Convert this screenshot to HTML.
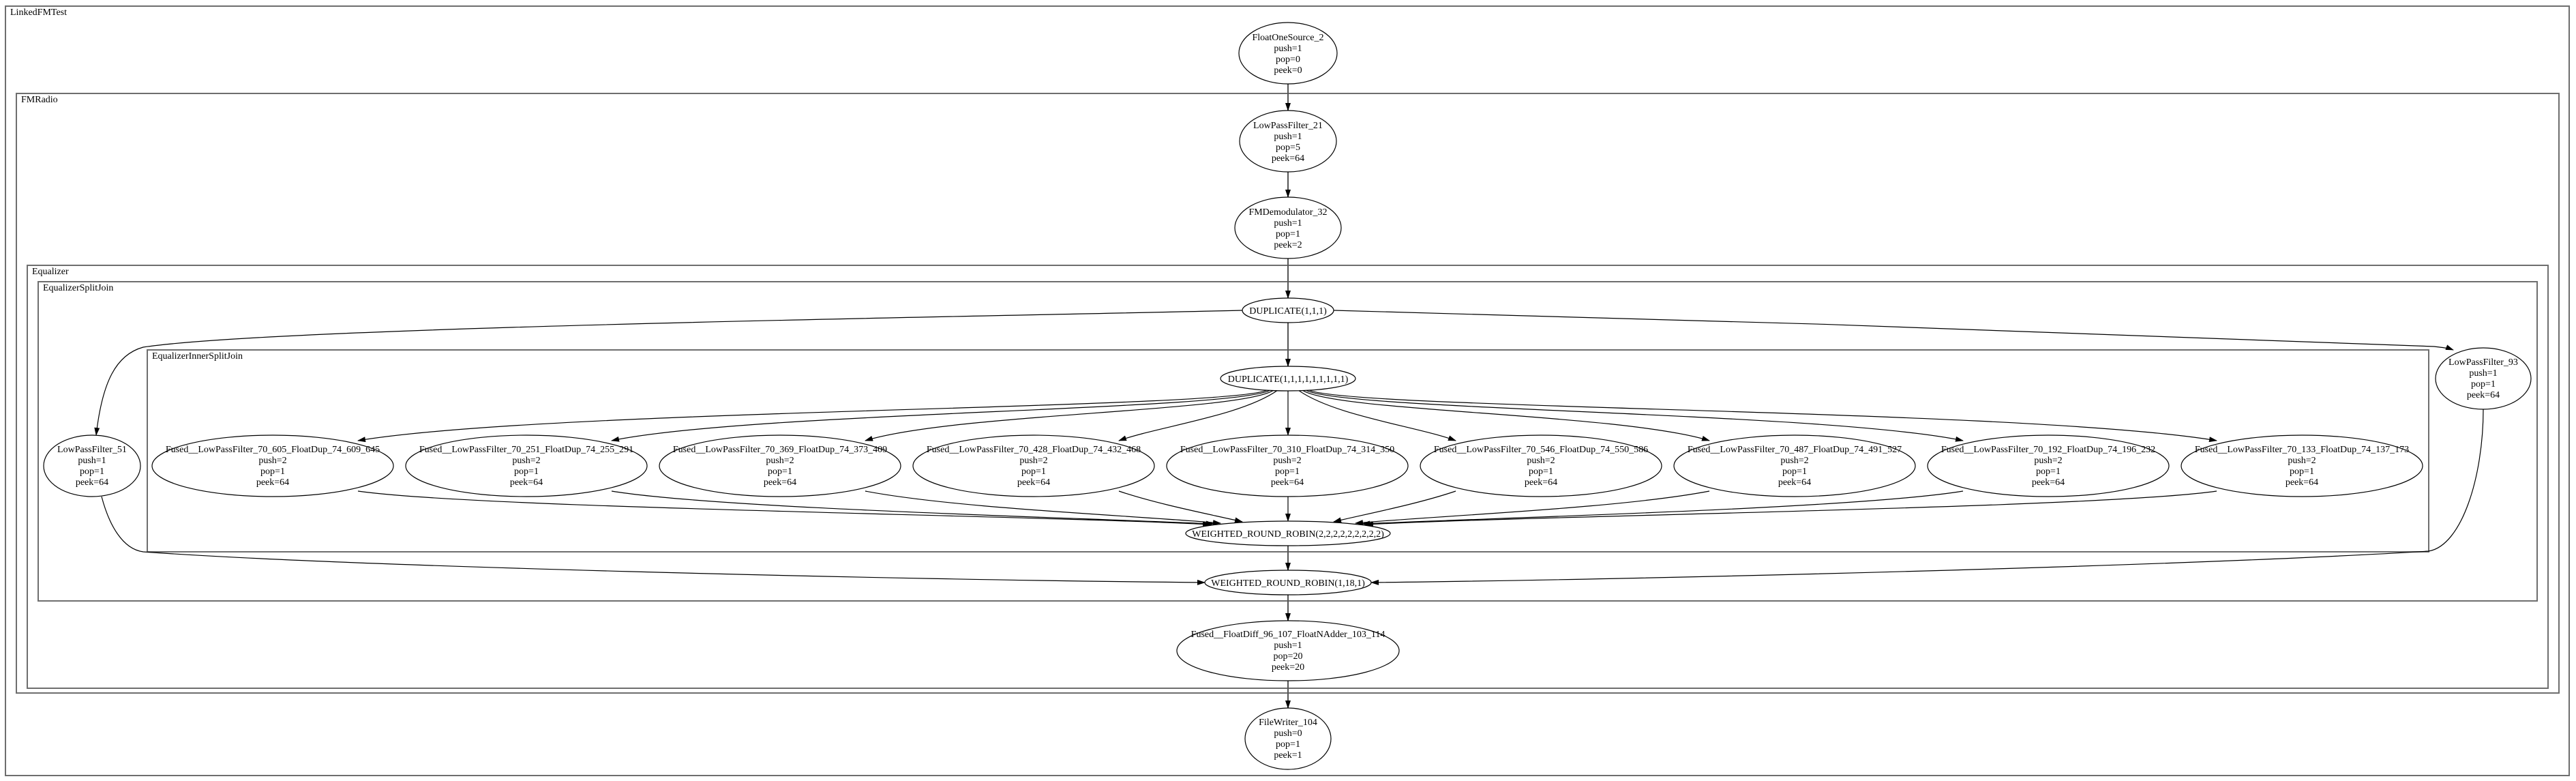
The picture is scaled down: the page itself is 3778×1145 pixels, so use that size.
<!DOCTYPE html>
<html><head><meta charset="utf-8"><style>
html,body{margin:0;padding:0;background:#fff;}
svg{display:block;}
text{font-family:"Liberation Serif",serif;font-size:14px;fill:#000;}
.c{fill:none;stroke:#6e6e6e;stroke-width:2;}
.n{fill:#fff;stroke:#000;stroke-width:1.2;}
.e{fill:none;stroke:#000;stroke-width:1.2;}
.v{fill:none;stroke:#555;stroke-width:2;}
</style></head><body>
<svg width="3778" height="1145" viewBox="0 0 3778 1145" xmlns="http://www.w3.org/2000/svg">
<defs>
<marker id="a" markerUnits="userSpaceOnUse" markerWidth="12" markerHeight="8" refX="11" refY="4" orient="auto"><path d="M0,0 L12,4 L0,8z" fill="#000"/></marker>
</defs>
<!-- clusters -->
<rect class="c" x="8" y="9" width="3760" height="1128"/>
<text x="15" y="22">LinkedFMTest</text>
<rect class="c" x="24" y="137" width="3729" height="879"/>
<text x="31" y="150">FMRadio</text>
<rect class="c" x="40" y="389" width="3697" height="620"/>
<text x="47" y="402">Equalizer</text>
<rect class="c" x="56" y="413" width="3665" height="468"/>
<text x="63" y="426">EqualizerSplitJoin</text>
<rect class="c" x="216" y="513" width="3346" height="296"/>
<text x="223" y="526">EqualizerInnerSplitJoin</text>

<!-- main vertical edges -->
<g class="v" marker-end="url(#a)">
<path d="M1889,123 L1889,162"/>
<path d="M1889,252 L1889,289"/>
<path d="M1889,379 L1889,437"/>
<path d="M1889,473 L1889,537"/>
<path d="M1889,800 L1889,836"/>
<path d="M1889,872 L1889,910"/>
<path d="M1889,998 L1889,1038"/>
</g>

<!-- outer splitjoin edges -->
<g class="e" marker-end="url(#a)">
<path d="M1822,455 C1400,465 400,480 210,509 C170,520 150,560 141,638"/>
<path d="M1956,455 C2400,465 3300,495 3570,508 C3585,510 3590,510 3598,513"/>
<path d="M149,728 C160,770 180,805 210,809 C500,830 1300,850 1767,854"/>
<path d="M3642,600 C3642,700 3610,800 3562,808 C3200,830 2400,850 2011,854"/>
</g>

<!-- dup9 -> fused -->
<g class="e" marker-end="url(#a)">
<path d="M1858,572 C1800,600 800,600 525,646"/>
<path d="M1863,572 C1810,602 1100,604 897,646"/>
<path d="M1868,572 C1820,604 1400,606 1269,646"/>
<path d="M1874,572 C1820,610 1700,625 1641,646"/>
<path d="M1889,573 L1889,638"/>
<path d="M1904,572 C1958,610 2078,625 2135,646"/>
<path d="M1910,572 C1958,604 2378,606 2507,646"/>
<path d="M1915,572 C1968,602 2678,604 2879,646"/>
<path d="M1920,572 C1978,600 2978,600 3251,646"/>
</g>
<!-- fused -> wrr -->
<g class="e" marker-end="url(#a)">
<path d="M525,720 C700,745 1500,755 1775,769"/>
<path d="M897,720 C1050,745 1550,758 1780,768"/>
<path d="M1269,720 C1400,745 1650,755 1790,767"/>
<path d="M1641,720 C1700,740 1780,755 1822,765"/>
<path d="M1889,728 L1889,764"/>
<path d="M2135,720 C2076,740 1996,755 1956,765"/>
<path d="M2507,720 C2376,745 2126,755 1988,767"/>
<path d="M2879,720 C2726,745 2226,758 1998,768"/>
<path d="M3251,720 C3076,745 2276,755 2003,769"/>
</g>

<!-- chain nodes -->
<ellipse class="n" cx="1889" cy="78" rx="72" ry="45"/>
<text text-anchor="middle"><tspan x="1889" y="59">FloatOneSource_2</tspan><tspan x="1889" y="75">push=1</tspan><tspan x="1889" y="91">pop=0</tspan><tspan x="1889" y="107">peek=0</tspan></text>
<ellipse class="n" cx="1889" cy="207" rx="71" ry="45"/>
<text text-anchor="middle"><tspan x="1889" y="188">LowPassFilter_21</tspan><tspan x="1889" y="204">push=1</tspan><tspan x="1889" y="220">pop=5</tspan><tspan x="1889" y="236">peek=64</tspan></text>
<ellipse class="n" cx="1889" cy="334" rx="78" ry="45"/>
<text text-anchor="middle"><tspan x="1889" y="315">FMDemodulator_32</tspan><tspan x="1889" y="331">push=1</tspan><tspan x="1889" y="347">pop=1</tspan><tspan x="1889" y="363">peek=2</tspan></text>
<ellipse class="n" cx="1889" cy="455" rx="67" ry="18"/>
<text x="1889" y="460" text-anchor="middle">DUPLICATE(1,1,1)</text>
<ellipse class="n" cx="1889" cy="555" rx="99" ry="18"/>
<text x="1889" y="560" text-anchor="middle">DUPLICATE(1,1,1,1,1,1,1,1,1)</text>

<ellipse class="n" cx="135" cy="683" rx="71" ry="45"/>
<text text-anchor="middle"><tspan x="135" y="663">LowPassFilter_51</tspan><tspan x="135" y="679">push=1</tspan><tspan x="135" y="695">pop=1</tspan><tspan x="135" y="711">peek=64</tspan></text>
<ellipse class="n" cx="3642" cy="555" rx="70" ry="45"/>
<text text-anchor="middle"><tspan x="3642" y="535">LowPassFilter_93</tspan><tspan x="3642" y="551">push=1</tspan><tspan x="3642" y="567">pop=1</tspan><tspan x="3642" y="583">peek=64</tspan></text>

<!-- fused nodes -->
<g>
<ellipse class="n" cx="400" cy="683" rx="177" ry="45"/>
<text text-anchor="middle"><tspan x="400" y="663">Fused__LowPassFilter_70_605_FloatDup_74_609_645</tspan><tspan x="400" y="679">push=2</tspan><tspan x="400" y="695">pop=1</tspan><tspan x="400" y="711">peek=64</tspan></text>
<ellipse class="n" cx="772" cy="683" rx="177" ry="45"/>
<text text-anchor="middle"><tspan x="772" y="663">Fused__LowPassFilter_70_251_FloatDup_74_255_291</tspan><tspan x="772" y="679">push=2</tspan><tspan x="772" y="695">pop=1</tspan><tspan x="772" y="711">peek=64</tspan></text>
<ellipse class="n" cx="1144" cy="683" rx="177" ry="45"/>
<text text-anchor="middle"><tspan x="1144" y="663">Fused__LowPassFilter_70_369_FloatDup_74_373_409</tspan><tspan x="1144" y="679">push=2</tspan><tspan x="1144" y="695">pop=1</tspan><tspan x="1144" y="711">peek=64</tspan></text>
<ellipse class="n" cx="1516" cy="683" rx="177" ry="45"/>
<text text-anchor="middle"><tspan x="1516" y="663">Fused__LowPassFilter_70_428_FloatDup_74_432_468</tspan><tspan x="1516" y="679">push=2</tspan><tspan x="1516" y="695">pop=1</tspan><tspan x="1516" y="711">peek=64</tspan></text>
<ellipse class="n" cx="1888" cy="683" rx="177" ry="45"/>
<text text-anchor="middle"><tspan x="1888" y="663">Fused__LowPassFilter_70_310_FloatDup_74_314_350</tspan><tspan x="1888" y="679">push=2</tspan><tspan x="1888" y="695">pop=1</tspan><tspan x="1888" y="711">peek=64</tspan></text>
<ellipse class="n" cx="2260" cy="683" rx="177" ry="45"/>
<text text-anchor="middle"><tspan x="2260" y="663">Fused__LowPassFilter_70_546_FloatDup_74_550_586</tspan><tspan x="2260" y="679">push=2</tspan><tspan x="2260" y="695">pop=1</tspan><tspan x="2260" y="711">peek=64</tspan></text>
<ellipse class="n" cx="2632" cy="683" rx="177" ry="45"/>
<text text-anchor="middle"><tspan x="2632" y="663">Fused__LowPassFilter_70_487_FloatDup_74_491_527</tspan><tspan x="2632" y="679">push=2</tspan><tspan x="2632" y="695">pop=1</tspan><tspan x="2632" y="711">peek=64</tspan></text>
<ellipse class="n" cx="3004" cy="683" rx="177" ry="45"/>
<text text-anchor="middle"><tspan x="3004" y="663">Fused__LowPassFilter_70_192_FloatDup_74_196_232</tspan><tspan x="3004" y="679">push=2</tspan><tspan x="3004" y="695">pop=1</tspan><tspan x="3004" y="711">peek=64</tspan></text>
<ellipse class="n" cx="3376" cy="683" rx="177" ry="45"/>
<text text-anchor="middle"><tspan x="3376" y="663">Fused__LowPassFilter_70_133_FloatDup_74_137_173</tspan><tspan x="3376" y="679">push=2</tspan><tspan x="3376" y="695">pop=1</tspan><tspan x="3376" y="711">peek=64</tspan></text>
</g>

<ellipse class="n" cx="1889" cy="782" rx="150" ry="18"/>
<text x="1889" y="787" text-anchor="middle">WEIGHTED_ROUND_ROBIN(2,2,2,2,2,2,2,2,2)</text>
<ellipse class="n" cx="1889" cy="854" rx="122" ry="18"/>
<text x="1889" y="859" text-anchor="middle">WEIGHTED_ROUND_ROBIN(1,18,1)</text>
<ellipse class="n" cx="1889" cy="954" rx="163" ry="44"/>
<text text-anchor="middle"><tspan x="1889" y="934">Fused__FloatDiff_96_107_FloatNAdder_103_114</tspan><tspan x="1889" y="950">push=1</tspan><tspan x="1889" y="966">pop=20</tspan><tspan x="1889" y="982">peek=20</tspan></text>
<ellipse class="n" cx="1889" cy="1083" rx="63" ry="45"/>
<text text-anchor="middle"><tspan x="1889" y="1063">FileWriter_104</tspan><tspan x="1889" y="1079">push=0</tspan><tspan x="1889" y="1095">pop=1</tspan><tspan x="1889" y="1111">peek=1</tspan></text>
</svg>
</body></html>
